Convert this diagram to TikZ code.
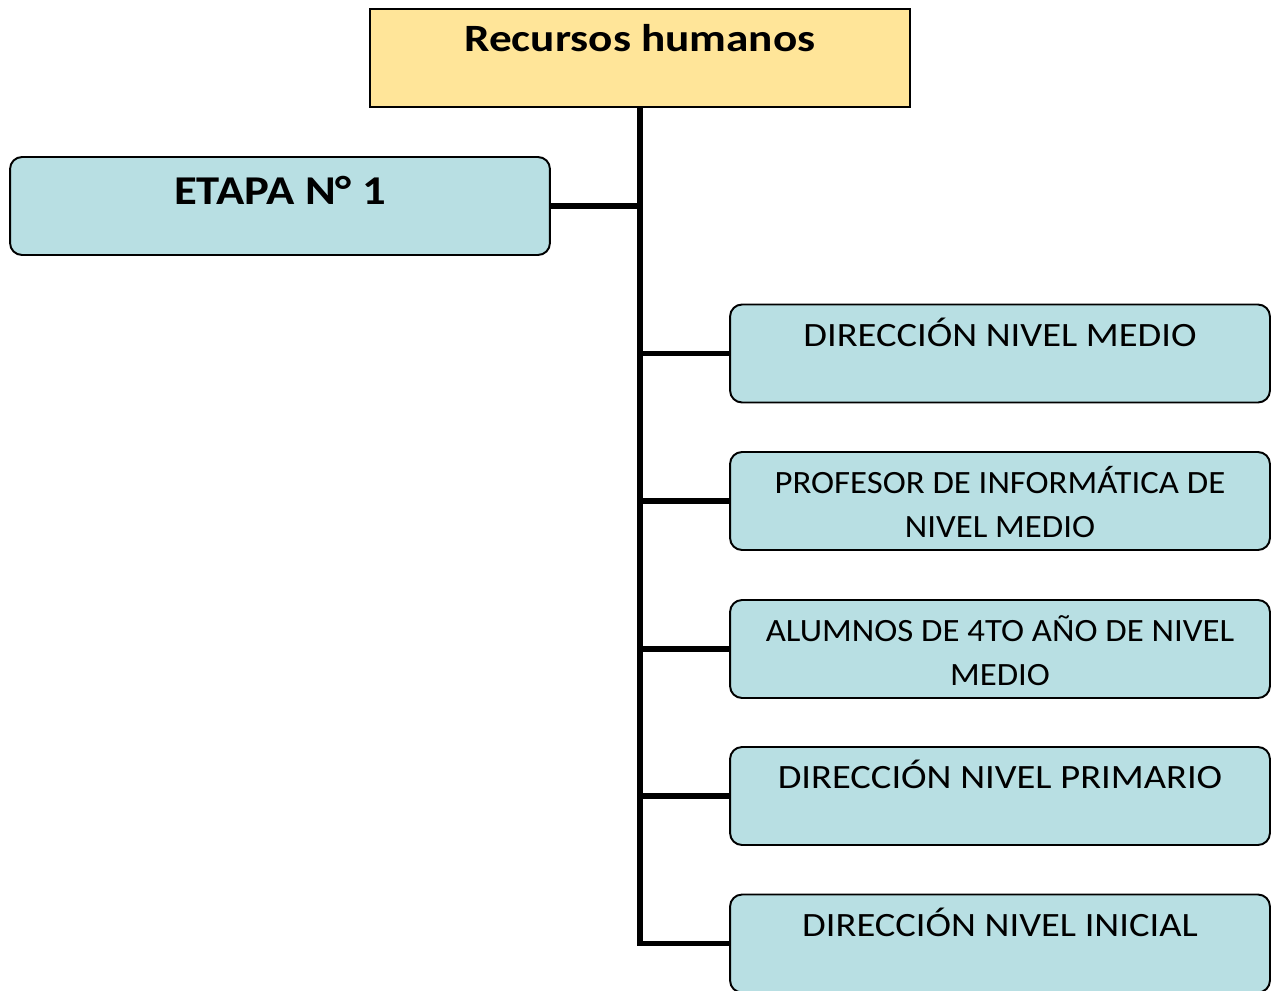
\documentclass[tikz,border=0pt]{standalone}
\usepackage{fontspec}
\setmainfont{Carlito}
\newfontfamily\titlefont[FakeStretch=1.17]{Carlito}
\newfontfamily\stagefont[FakeStretch=1.14]{Carlito}
\newfontfamily\itemfont[FakeStretch=1.13]{Carlito}
\newfontfamily\pairfont[FakeStretch=1.07]{Carlito}
\definecolor{titlefill}{HTML}{FFE599}
\definecolor{boxfill}{HTML}{B8DFE3}
\newcommand{\boxtxt}[2]{\parbox[c][1.96cm][t]{10.8cm}{\centering\rule{0pt}{#1}#2}}
\begin{document}
\begin{tikzpicture}[x=0.02cm,y=-0.02cm,
	titlebox/.style={rectangle,draw,line width=0.8pt,fill=titlefill,inner sep=0pt,minimum width=10.8cm,minimum height=1.96cm},
	stagebox/.style={rectangle,rounded corners=0.24cm,draw,line width=1.1pt,fill=boxfill,inner sep=0pt,minimum width=10.8cm,minimum height=1.96cm},
	itembox/.style={stagebox,font=\itemfont\fontsize{19.4}{25.5}\selectfont},
	pairbox/.style={stagebox,font=\pairfont\fontsize{18.5}{25.5}\selectfont},
	trunk/.style={line width=3pt}]
				\useasboundingbox (0,0) rectangle (1277,990);
				\node[titlebox,font=\titlefont\fontsize{22}{26}\selectfont\bfseries] (rh) at (640,58) {\boxtxt{0.85cm}{Recursos humanos}};
				\node[stagebox,font=\stagefont\fontsize{23.3}{28}\selectfont\bfseries] (e1) at (280,206) {\boxtxt{0.95cm}{ETAPA N° 1}};
				\node[itembox] (dm) at (1000,353.5) {\boxtxt{0.83cm}{DIRECCIÓN NIVEL MEDIO}};
				\node[pairbox] (pi) at (1000,501) {\boxtxt{0.82cm}{PROFESOR DE INFORMÁTICA DE\\NIVEL MEDIO}};
				\node[pairbox] (al) at (1000,649) {\boxtxt{0.82cm}{ALUMNOS DE 4TO AÑO DE NIVEL\\MEDIO}};
				\node[itembox] (dp) at (1000,796) {\boxtxt{0.83cm}{DIRECCIÓN NIVEL PRIMARIO}};
				\node[itembox] (di) at (1000,943.5) {\boxtxt{0.83cm}{DIRECCIÓN NIVEL INICIAL}};
				\path[trunk,draw] (rh.south) -- (rh.south |- di.west) -- (di.west);
				\path[trunk,draw] (e1.east) -- (rh.south |- e1.east);
				\path[trunk,draw] (rh.south |- dm.west) -- (dm.west);
				\path[trunk,draw] (rh.south |- pi.west) -- (pi.west);
				\path[trunk,draw] (rh.south |- al.west) -- (al.west);
				\path[trunk,draw] (rh.south |- dp.west) -- (dp.west);
			\end{tikzpicture}
\end{document}
